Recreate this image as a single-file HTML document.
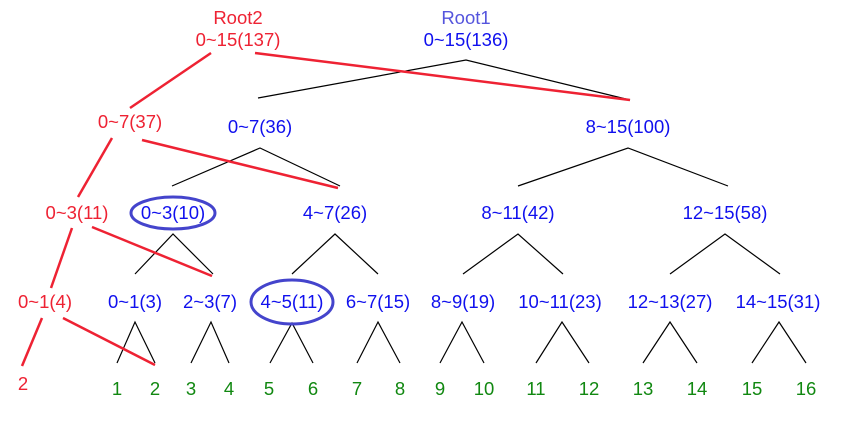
<!DOCTYPE html>
<html><head><meta charset="utf-8"><style>
html,body{margin:0;padding:0;background:#fff;}
svg text{font-family:"Liberation Sans",sans-serif;font-size:18.5px;text-anchor:middle;}
.r{fill:#ee2233}.b{fill:#1010ee}.g{fill:#118811}.rt{fill:#5555dd}
</style></head><body>
<svg width="842" height="420" viewBox="0 0 842 420" xmlns="http://www.w3.org/2000/svg">
<g stroke="#000" stroke-width="1.2" fill="none">
<polyline points="258,98 466,60 630,100"/>
<polyline points="172,186 260,148 340,186"/>
<polyline points="518,186 628,148 728,186"/>
<polyline points="135,274 173,234 213,274"/>
<polyline points="292,274 335,234 378,274"/>
<polyline points="463,274 518,234 563,274"/>
<polyline points="670,274 725,234 780,274"/>
<polyline points="117,363 135,322 155,363"/>
<polyline points="191,363 211,322 229,363"/>
<polyline points="270,363 292,323 313,363"/>
<polyline points="357,363 378,322 400,363"/>
<polyline points="440,363 462,322 484,363"/>
<polyline points="536,363 562,322 589,363"/>
<polyline points="643,363 670,322 697,363"/>
<polyline points="752,363 779,322 806,363"/>
</g>
<g stroke="#ee2233" stroke-width="2.5">
<line x1="211" y1="53" x2="130" y2="108"/>
<line x1="255" y1="53" x2="630" y2="100"/>
<line x1="112" y1="138" x2="78" y2="197"/>
<line x1="142" y1="140" x2="338" y2="188"/>
<line x1="72" y1="228" x2="51" y2="288"/>
<line x1="92" y1="227" x2="212" y2="276"/>
<line x1="42" y1="318" x2="22" y2="366"/>
<line x1="63" y1="318" x2="155" y2="365"/>
</g>
<g stroke="#4444cc" stroke-width="3" fill="none">
<ellipse cx="173" cy="213" rx="42" ry="16"/>
<ellipse cx="292" cy="302" rx="41" ry="22"/>
</g>
<text class="r" x="238" y="24">Root2</text>
<text class="r" x="238" y="46">0~15(137)</text>
<text class="rt" x="466" y="24">Root1</text>
<text class="b" x="466" y="46">0~15(136)</text>
<text class="r" x="130" y="128">0~7(37)</text>
<text class="b" x="260" y="133">0~7(36)</text>
<text class="b" x="628" y="133">8~15(100)</text>
<text class="r" x="77" y="219">0~3(11)</text>
<text class="b" x="173" y="219">0~3(10)</text>
<text class="b" x="335" y="219">4~7(26)</text>
<text class="b" x="518" y="219">8~11(42)</text>
<text class="b" x="725" y="219">12~15(58)</text>
<text class="r" x="45" y="308">0~1(4)</text>
<text class="b" x="135" y="308">0~1(3)</text>
<text class="b" x="210" y="308">2~3(7)</text>
<text class="b" x="292" y="308">4~5(11)</text>
<text class="b" x="378" y="308">6~7(15)</text>
<text class="b" x="463" y="308">8~9(19)</text>
<text class="b" x="560" y="308">10~11(23)</text>
<text class="b" x="670" y="308">12~13(27)</text>
<text class="b" x="778" y="308">14~15(31)</text>
<text class="r" x="23" y="390">2</text>
<text class="g" x="117" y="395">1</text>
<text class="g" x="155" y="395">2</text>
<text class="g" x="191" y="395">3</text>
<text class="g" x="229" y="395">4</text>
<text class="g" x="269" y="395">5</text>
<text class="g" x="313" y="395">6</text>
<text class="g" x="357" y="395">7</text>
<text class="g" x="400" y="395">8</text>
<text class="g" x="440" y="395">9</text>
<text class="g" x="484" y="395">10</text>
<text class="g" x="536" y="395">11</text>
<text class="g" x="589" y="395">12</text>
<text class="g" x="643" y="395">13</text>
<text class="g" x="697" y="395">14</text>
<text class="g" x="752" y="395">15</text>
<text class="g" x="806" y="395">16</text>
</svg>
</body></html>
